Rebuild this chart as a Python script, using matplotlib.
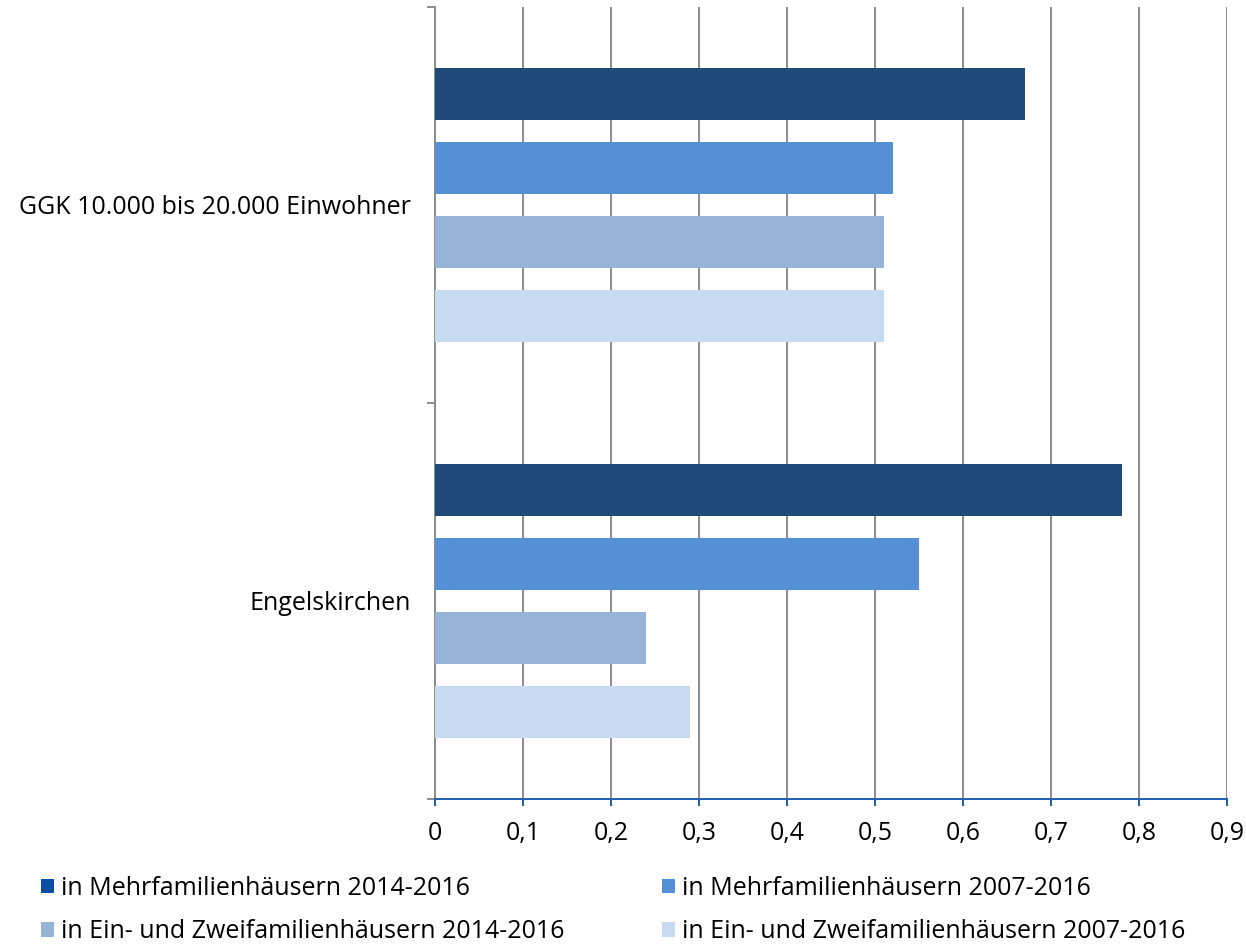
import numpy as np
import matplotlib.pyplot as plt
from matplotlib.patches import Patch
from matplotlib.ticker import FixedLocator, FuncFormatter

plt.rcParams['font.family'] = ['Open Sans', 'DejaVu Sans']

# -------------------------
# Data
# -------------------------
categories = ['Engelskirchen', 'GGK 10.000 bis 20.000 Einwohner']
series_labels = [
    'in Mehrfamilienhäusern 2014-2016',
    'in Mehrfamilienhäusern 2007-2016',
    'in Ein- und Zweifamilienhäusern 2014-2016',
    'in Ein- und Zweifamilienhäusern 2007-2016',
]
values = [
    [0.78, 0.67],   # Mehrfamilien 2014-2016
    [0.55, 0.52],   # Mehrfamilien 2007-2016
    [0.24, 0.51],   # Ein-/Zweifamilien 2014-2016
    [0.29, 0.51],   # Ein-/Zweifamilien 2007-2016
]
x_ticks = [0, 0.1, 0.2, 0.3, 0.4, 0.5, 0.6, 0.7, 0.8, 0.9]

bar_colors = ['#204a7c', '#5590d6', '#95b4d8', '#c7daf1']
legend_colors = ['#0b4fa2', '#5590d6', '#95b4d8', '#c7daf1']

# -------------------------
# Plot
# -------------------------
fig = plt.figure(figsize=(12.46, 9.44), dpi=100)
ax = fig.add_axes([0.349, 0.1536, 0.636, 0.839])

y = np.arange(len(categories))
pitch = 0.187
height = 0.131
offsets = [1.5, 0.5, -0.5, -1.5]

for vals, off, col in zip(values, offsets, bar_colors):
    ax.barh(y + off * pitch, vals, height=height, color=col, zorder=3)

ax.set_xlim(0, 0.9)
ax.set_ylim(-0.5, 1.5)

# x axis
ax.xaxis.set_major_locator(FixedLocator(x_ticks))
ax.xaxis.set_major_formatter(FuncFormatter(lambda v, p: f'{v:.1f}'.replace('.', ',') if v else '0'))
ax.tick_params(axis='x', direction='out', length=5, width=1.4, color='#1f5fb0',
               labelsize=18, pad=11)
ax.grid(axis='x', color='#8c8c8c', linewidth=1.4, zorder=0)

# y axis: ticks at category boundaries, labels at centers
ax.yaxis.set_major_locator(FixedLocator([-0.5, 0.5, 1.5]))
ax.yaxis.set_major_formatter(FuncFormatter(lambda v, p: ''))
ax.yaxis.set_minor_locator(FixedLocator(y))
ax.set_yticklabels(categories, minor=True)
ax.tick_params(axis='y', which='major', direction='out', length=6, width=1.4, color='#8c8c8c')
ax.tick_params(axis='y', which='minor', length=0, labelsize=18, pad=17)

ax.spines['top'].set_visible(False)
ax.spines['right'].set_visible(False)
ax.spines['left'].set_color('#8c8c8c')
ax.spines['left'].set_linewidth(1.4)
ax.spines['bottom'].set_color('#1f5fb0')
ax.spines['bottom'].set_linewidth(1.4)
ax.spines['bottom'].set_zorder(4)

# -------------------------
# Legend
# -------------------------
handles = [Patch(facecolor=c, edgecolor='none', label=l) for c, l in zip(legend_colors, series_labels)]
order = [0, 2, 1, 3]
fig.legend([handles[i] for i in order], [series_labels[i] for i in order],
           ncol=2, loc='lower left', bbox_to_anchor=(0.019, -0.019), frameon=False,
           fontsize=18, handlelength=0.5, handleheight=0.5, handletextpad=0.3,
           columnspacing=3.9, labelspacing=0.75, borderaxespad=0.3)

fig.savefig('out.png', dpi=100)
